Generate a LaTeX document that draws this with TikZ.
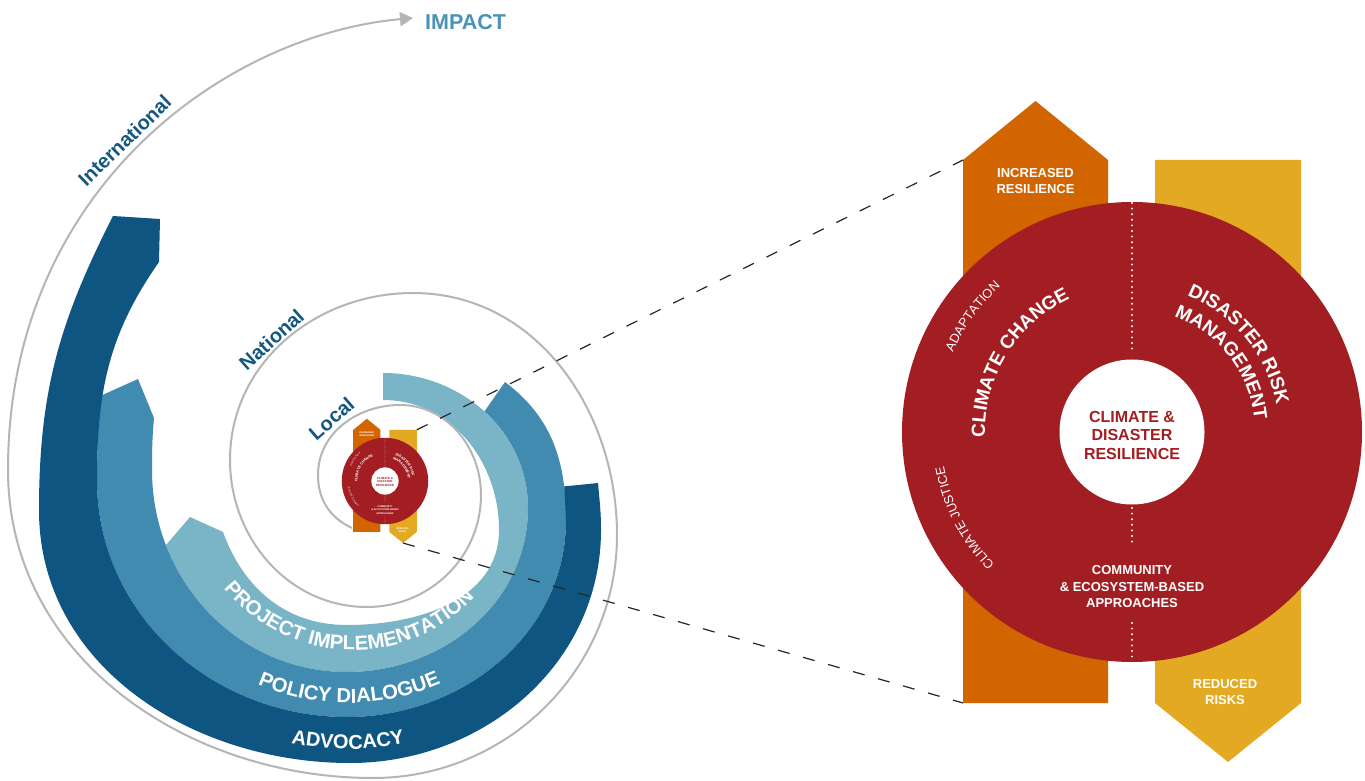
\documentclass[tikz,border=0pt]{standalone}
\usepackage{fontspec}
\setmainfont{Liberation Sans}
\usetikzlibrary{decorations.text, arrows.meta}

\definecolor{bdark}{HTML}{0F5581}
\definecolor{bmid}{HTML}{418BB1}
\definecolor{blight}{HTML}{7AB4C7}
\definecolor{spgray}{HTML}{B3B5B7}
\definecolor{lblue}{HTML}{14577F}
\definecolor{impblue}{HTML}{4A93B6}
\definecolor{crorange}{HTML}{D26500}
\definecolor{cryellow}{HTML}{E3A923}
\definecolor{crred}{HTML}{A31E22}

\tikzset{
  spiral/.style={draw=spgray, line width=2pt},
  lvl/.style={text=lblue, font=\bfseries\fontsize{20}{24}\selectfont, inner sep=0pt},
  impact/.style={text=impblue, font=\bfseries\fontsize{21.5}{26}\selectfont, inner sep=0pt},
  crtext/.style={text=white, align=center, inner sep=0pt},
  dashline/.style={draw=black!85, line width=1.2pt, dash pattern=on 12pt off 14pt},
  arctext/.style n args={3}{decorate, decoration={text along path, text={|#2|#3}, text color=#1}},
}

% #1 x, #2 y, #3 scale, #4 prefix
\newcommand\crdiag[4]{%
  \pgfmathsetmacro\fsBig{19*#3}%
  \pgfmathsetmacro\fsBigL{22*#3}%
  \pgfmathsetmacro\fsSm{13*#3}%
  \pgfmathsetmacro\fsSmL{16.5*#3}%
  \pgfmathsetmacro\fsMid{16*#3}%
  \pgfmathsetmacro\fsMidL{18.5*#3}%
  \pgfmathsetmacro\fsArc{12.8*#3}%
  \pgfmathsetmacro\fsArcL{15*#3}%
  \pgfmathsetmacro\dotw{2.2*#3}%
  \pgfmathsetmacro\dotg{5.6*#3}%
  \begin{scope}[shift={(#1,#2)}, scale=#3]
    \fill[crorange] (-169,-271) -- (-169,272) -- (-96.5,331) -- (-24,272) -- (-24,-271) -- cycle;
    \fill[cryellow] (23,272) -- (169,272) -- (169,-271) -- (96,-330) -- (23,-271) -- cycle;
    \fill[crred] (0,0) circle[radius=230];
    \fill[white] (0,0) circle[radius=72.5];
    \draw[white, line width=\dotw pt, line cap=round, dash pattern=on 0pt off \dotg pt]
      (0,229) -- (0,82) (0,-76) -- (0,-115) (0,-191) -- (0,-228);
    \coordinate (#4-otl) at (-169,272);
    \coordinate (#4-obl) at (-169,-271);
    \coordinate (#4-ytr) at (169,272);
    \coordinate (#4-ytip) at (96,-330);
    \node[crtext, font=\bfseries\fontsize{\fsSm}{\fsSmL}\selectfont] (#4-inc) at (-96.5,251) {INCREASED\\RESILIENCE};
    \node[crtext, font=\bfseries\fontsize{\fsSm}{\fsSmL}\selectfont] (#4-red) at (93,-260) {REDUCED\\RISKS};
    \node[crtext, font=\bfseries\fontsize{\fsSm}{\fsSmL}\selectfont] (#4-com) at (0,-155) {COMMUNITY\\\& ECOSYSTEM-BASED\\APPROACHES};
    \node[crtext, text=crred, font=\bfseries\fontsize{\fsMid}{\fsMidL}\selectfont] (#4-cdr) at (0,-3) {CLIMATE \&\\DISASTER\\RESILIENCE};
    \path[arctext={white}{\bfseries\fontsize{\fsBig}{\fsBigL}\selectfont}{CLIMATE CHANGE}]
      (182:147) arc[start angle=182, end angle=95, radius=147];
    \path[arctext={white}{\fontsize{\fsArc}{\fsArcL}\selectfont}{ADAPTATION}]
      (156:196) arc[start angle=156, end angle=105, radius=196];
    \path[arctext={white}{\fontsize{\fsArc}{\fsArcL}\selectfont}{CLIMATE JUSTICE}]
      (224:191) arc[start angle=224, end angle=172, radius=191];
    \path[arctext={white}{\bfseries\fontsize{\fsBig}{\fsBigL}\selectfont}{DISASTER RISK}]
      (68:147) arc[start angle=68, end angle=-2, radius=147];
    \path[arctext={white}{\bfseries\fontsize{\fsBig}{\fsBigL}\selectfont}{MANAGEMENT}]
      (70:123) arc[start angle=70, end angle=-8, radius=123];
  \end{scope}}

\begin{document}
\begin{tikzpicture}[x=1pt,y=1pt]
\useasboundingbox (0,0) rectangle (1365,780);

% light band (project implementation)
\fill[blight] (165.9,234.9) -- (190,263) -- (223,248) to[out=-70,in=180] (347,155)
  to[out=0,in=270] (499,250) to[out=90,in=0] (383,380) -- (383,407)
  to[out=0,in=90] (528,272) to[out=270,in=0] (347,108)
  .. controls (263.4,108) and (194.2,161.1) .. (165.9,234.9) -- cycle;

% medium band (policy dialogue)
\fill[bmid] (98,383) -- (138,401) -- (154,362) to[out=265,in=90] (152,310)
  to[out=270,in=180] (347,108) to[out=0,in=270] (528,272)
  .. controls (528,310.8) and (511.1,344.55) .. (484.5,368.6) -- (505,398)
  to[out=-37,in=90] (566,260) to[out=270,in=0] (347,63)
  to[out=180,in=270] (97,300) -- cycle;

% dark band (advocacy)
\fill[bdark] (113,564) -- (160,561) -- (159,518) to[out=235,in=90] (97,300)
  to[out=270,in=180] (347,63) to[out=0,in=270] (566,260) -- (564.2,293.6)
  -- (598,297) to[out=-85,in=90] (601,250) to[out=270,in=0] (350,17)
  to[out=180,in=270] (39,270) to[out=90,in=243] (113,564) -- cycle;

% spiral
\draw[spiral, -{Triangle[length=13pt,width=14pt]}]
  (352,252) to[out=155,in=270] (318,305) to[out=90,in=180] (400,375)
  to[out=0,in=90] (481,285) to[out=270,in=0] (367,173)
  to[out=180,in=270] (230,320) to[out=90,in=180] (413,487)
  to[out=0,in=90] (617,245) to[out=270,in=0] (373,2)
  to[out=180,in=270] (8,310) .. controls (8,590) and (225,745) .. (413,762);

% level labels
\node[lvl, rotate=41] (local) at (331.5,361.5) {Local};
\node[lvl, rotate=42] (national) at (271.5,440.5) {National};
\node[lvl, rotate=44] (intl) at (124.5,639.5) {International};
\node[impact, anchor=base west] (impact) at (425,750) {IMPACT};

% band labels
\begin{scope}[shift={(353,296)}]
  \path[arctext={white}{\bfseries\fontsize{20.3}{24}\selectfont}{PROJECT IMPLEMENTATION}]
    (218.9:166) arc[start angle=218.9, end angle=335, radius=166];
\end{scope}
\begin{scope}[shift={(349,306)}]
  \path[arctext={white}{\bfseries\fontsize{20.3}{24}\selectfont}{POLICY DIALOGUE}]
    (246.5:229) arc[start angle=246.5, end angle=300, radius=229];
\end{scope}
\begin{scope}[shift={(348,314)}]
  \path[arctext={white}{\bfseries\fontsize{20}{24}\selectfont}{ADVOCACY}]
    (258.4:283) arc[start angle=258.4, end angle=290, radius=283];
\end{scope}

% climate & disaster resilience diagrams
\crdiag{1132}{348}{1}{b}
\crdiag{385}{299}{0.188}{s}

% zoom connectors
\draw[dashline] (s-ytr) -- (b-otl);
\draw[dashline] (s-ytip) -- (b-obl);
\end{tikzpicture}
\end{document}
